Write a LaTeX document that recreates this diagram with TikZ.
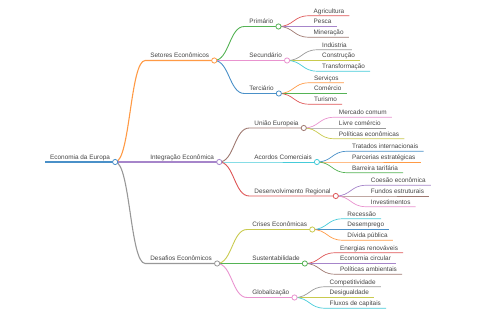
\documentclass[tikz,border=0pt]{standalone}
\usepackage{fontspec}
\setmainfont{Liberation Sans}
\usepackage{xcolor}
\usetikzlibrary{positioning}

\definecolor{c0}{HTML}{4A90C8}
\definecolor{c1}{HTML}{FF9A45}
\definecolor{c2}{HTML}{55B355}
\definecolor{c3}{HTML}{DE5556}
\definecolor{c4}{HTML}{A685CA}
\definecolor{c5}{HTML}{9E7870}
\definecolor{c6}{HTML}{E993CF}
\definecolor{c7}{HTML}{989898}
\definecolor{c8}{HTML}{C9CA4E}
\definecolor{c9}{HTML}{45CBD9}
\definecolor{txt}{HTML}{444444}

\begin{document}
\begin{tikzpicture}[
mm/.style={anchor=south west, inner xsep=5pt, inner ysep=2.4pt, text height=4.8pt, text depth=0pt, text=txt, font=\fontsize{6.4}{7.5}\selectfont},
kid up/.style 2 args={above right=#1 and 30pt of #2.south east, anchor=south west},
kid on/.style={right=30pt of #1.south east, anchor=south west},
kid down/.style 2 args={below right=#1 and 30pt of #2.south east, anchor=south west},
dot/.style={circle, draw, fill=white, inner sep=0pt, minimum size=5.2pt, line width=0.8pt},
w0/.style={line width=1.5pt},
w1/.style={line width=1.1pt},
w2/.style={line width=0.9pt},
w3/.style={line width=0.7pt}
]
\useasboundingbox (0,0) rectangle (480pt,-320pt);

% root and first level
\node[mm] (root) at (45pt,-162pt) {Economia da Europa};
\node[mm, kid up={101.5pt}{root}] (setores) {Setores Econômicos};
\node[mm, kid on=root] (integ) {Integração Econômica};
\node[mm, kid down={101.5pt}{root}] (desaf) {Desafios Econômicos};

% second level
\node[mm, kid up={34pt}{setores}] (prim) {Primário};
\node[mm, kid on=setores] (secund) {Secundário};
\node[mm, kid down={33pt}{setores}] (terc) {Terciário};
\node[mm, kid up={34pt}{integ}] (uniao) {União Europeia};
\node[mm, kid on=integ] (acordos) {Acordos Comerciais};
\node[mm, kid down={34pt}{integ}] (desenv) {Desenvolvimento Regional};
\node[mm, kid up={34pt}{desaf}] (crises) {Crises Econômicas};
\node[mm, kid on=desaf] (sust) {Sustentabilidade};
\node[mm, kid down={34pt}{desaf}] (glob) {Globalização};

% leaves
\node[mm, kid up={10.7pt}{prim}] (agri) {Agricultura};
\node[mm, kid on=prim] (pesca) {Pesca};
\node[mm, kid down={10.7pt}{prim}] (miner) {Mineração};
\node[mm, kid up={10.7pt}{secund}] (indus) {Indústria};
\node[mm, kid on=secund] (constr) {Construção};
\node[mm, kid down={10.7pt}{secund}] (transf) {Transformação};
\node[mm, kid up={10.7pt}{terc}] (serv) {Serviços};
\node[mm, kid on=terc] (comer) {Comércio};
\node[mm, kid down={10.7pt}{terc}] (tur) {Turismo};
\node[mm, kid up={10.7pt}{uniao}] (mercado) {Mercado comum};
\node[mm, kid on=uniao] (livre) {Livre comércio};
\node[mm, kid down={10.7pt}{uniao}] (polEcon) {Políticas econômicas};
\node[mm, kid up={10.7pt}{acordos}] (tratados) {Tratados internacionais};
\node[mm, kid on=acordos] (parcerias) {Parcerias estratégicas};
\node[mm, kid down={10.7pt}{acordos}] (barreira) {Barreira tarifária};
\node[mm, kid up={10.7pt}{desenv}] (coesao) {Coesão econômica};
\node[mm, kid on=desenv] (fundos) {Fundos estruturais};
\node[mm, kid down={10.7pt}{desenv}] (invest) {Investimentos};
\node[mm, kid up={10.7pt}{crises}] (recess) {Recessão};
\node[mm, kid on=crises] (desemp) {Desemprego};
\node[mm, kid down={10.7pt}{crises}] (divida) {Dívida pública};
\node[mm, kid up={10.7pt}{sust}] (energ) {Energias renováveis};
\node[mm, kid on=sust] (econCirc) {Economia circular};
\node[mm, kid down={10.7pt}{sust}] (polAmb) {Políticas ambientais};
\node[mm, kid up={10.7pt}{glob}] (compet) {Competitividade};
\node[mm, kid on=glob] (desig) {Desigualdade};
\node[mm, kid down={10.7pt}{glob}] (fluxos) {Fluxos de capitais};

% links and underlines
\draw[c0, w0] (root.south west) -- (root.south east);
\foreach \p/\k/\c in {root/setores/c1, root/integ/c4, root/desaf/c7}
  \draw[\c, w1] (\p.south east) .. controls +(15pt,0) and +(-15pt,0) .. (\k.south west) -- (\k.south east);
\foreach \p/\k/\c in {setores/prim/c2, setores/secund/c6, setores/terc/c0,
    integ/uniao/c5, integ/acordos/c9, integ/desenv/c3,
    desaf/crises/c8, desaf/sust/c2, desaf/glob/c6}
  \draw[\c, w2] (\p.south east) .. controls +(15pt,0) and +(-15pt,0) .. (\k.south west) -- (\k.south east);
\foreach \p/\k/\c in {prim/agri/c3, prim/pesca/c4, prim/miner/c5,
    secund/indus/c7, secund/constr/c8, secund/transf/c9,
    terc/serv/c1, terc/comer/c2, terc/tur/c3,
    uniao/mercado/c6, uniao/livre/c7, uniao/polEcon/c8,
    acordos/tratados/c0, acordos/parcerias/c1, acordos/barreira/c2,
    desenv/coesao/c4, desenv/fundos/c5, desenv/invest/c6,
    crises/recess/c9, crises/desemp/c0, crises/divida/c1,
    sust/energ/c3, sust/econCirc/c4, sust/polAmb/c5,
    glob/compet/c7, glob/desig/c8, glob/fluxos/c9}
  \draw[\c, w3] (\p.south east) .. controls +(15pt,0) and +(-15pt,0) .. (\k.south west) -- (\k.south east);

% folding circles
\foreach \n/\c in {root/c0, setores/c1, integ/c4, desaf/c7,
    prim/c2, secund/c6, terc/c0, uniao/c5, acordos/c9, desenv/c3,
    crises/c8, sust/c2, glob/c6}
  \node[dot, draw=\c] (\n-dot) at (\n.south east) {};
\end{tikzpicture}
\end{document}
